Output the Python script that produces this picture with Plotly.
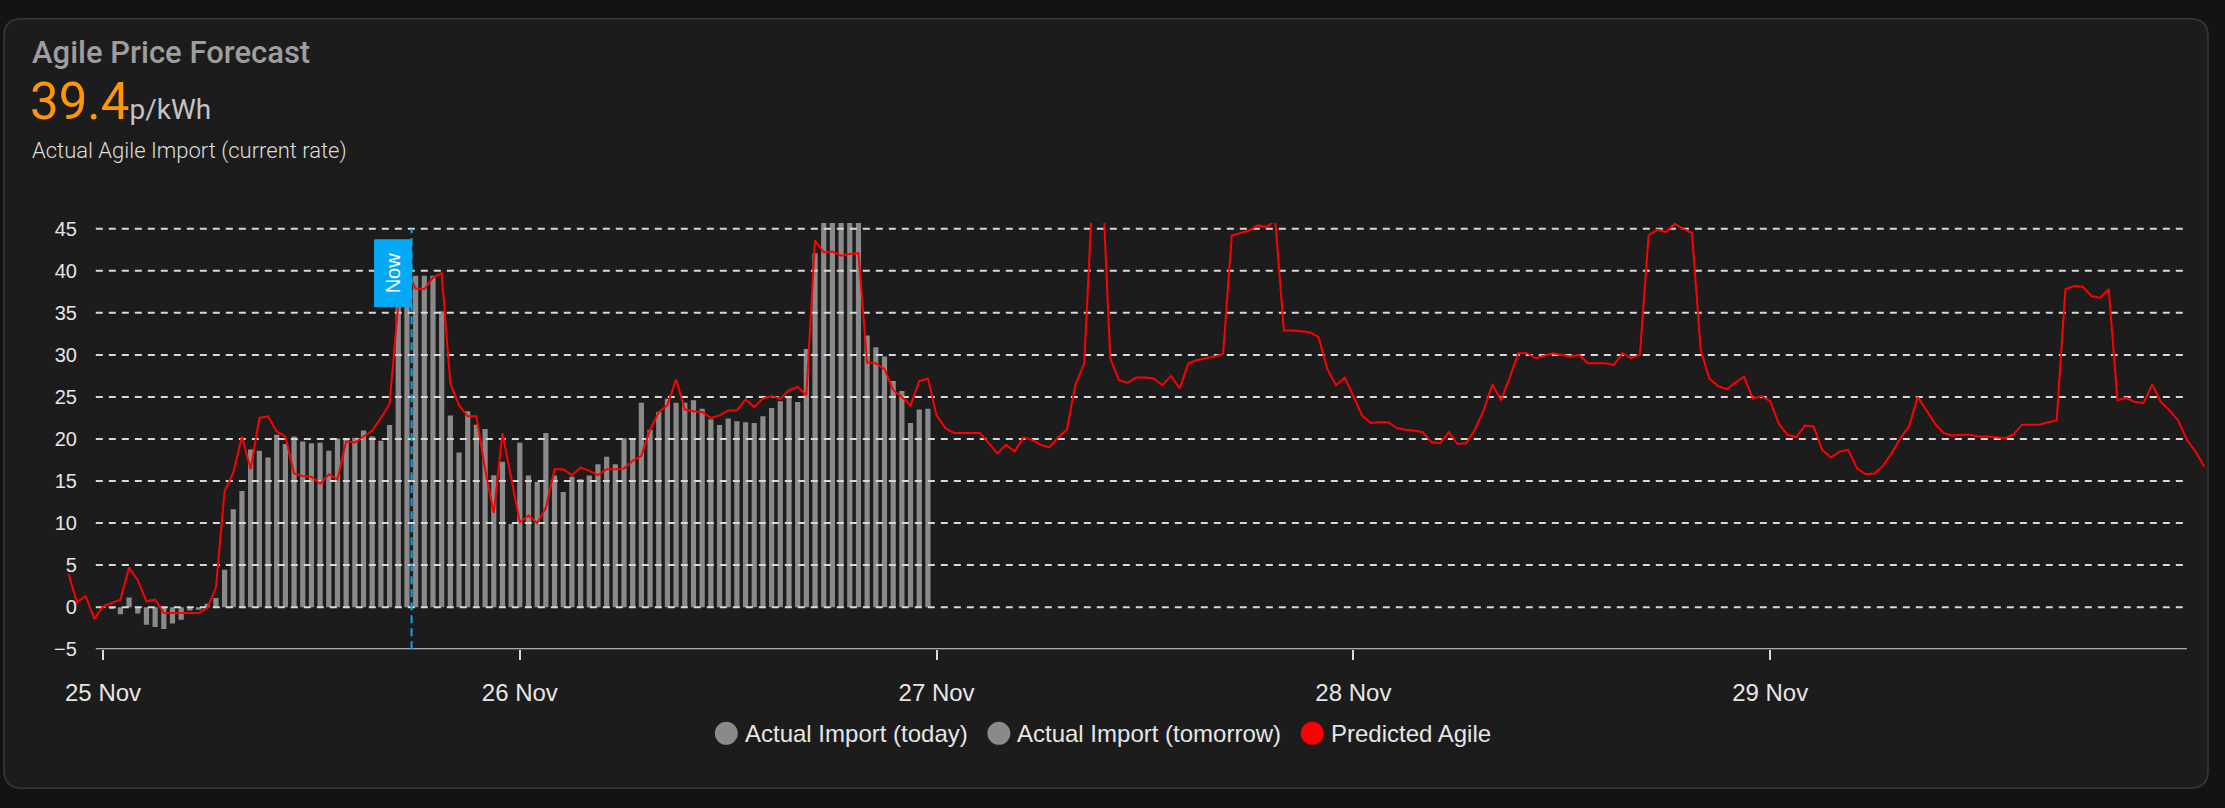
import pandas as pd
import plotly.graph_objects as go

# Actual Agile import price (p/kWh), half-hourly from 25 Nov 00:00
actual_today = [
    0.1, -0.1, -0.85, 1.15, -0.75, -2.1, -2.35, -2.6, -1.95, -1.5, -0.4, -0.3,
    0.4, 1.1, 4.45, 11.65, 13.8, 18.75, 18.6, 17.8, 20.5, 19.4, 20.3, 19.7,
    19.5, 19.55, 18.6, 20.05, 20.0, 20.15, 21.0, 20.3, 19.8, 21.65, 35.8, 39.4,
    39.4, 39.4, 39.4, 35.2, 22.8, 18.4, 23.3, 21.7, 21.2, 15.7, 17.3, 9.9,
]
# half-hourly from 26 Nov 00:00
actual_tomorrow = [
    19.55, 15.65, 14.9, 20.7, 15.65, 13.7, 15.5, 15.2, 15.65, 17.0, 17.9, 17.0,
    20.1, 20.1, 24.3, 21.1, 23.2, 24.8, 24.3, 24.3, 24.6, 23.6, 22.35, 21.65,
    22.45, 22.1, 22.0, 21.9, 22.7, 23.7, 24.5, 25.0, 24.4, 30.7, 42.1, 48.0,
    48.0, 48.0, 48.0, 48.0, 32.3, 30.9, 29.8, 26.9, 25.7, 21.9, 23.5, 23.6,
]
# Predicted Agile price, half-hourly from 24 Nov 22:00
predicted = [
    4.0, 0.6, 1.3, -1.4, 0.1, 0.5, 0.9, 4.7, 3.2, 0.7, 0.9, -0.7,
    -0.7, -0.7, -0.7, -0.7, -0.1, 2.3, 13.8, 16.0, 20.3, 16.4, 22.5, 22.7,
    20.9, 20.3, 15.9, 15.6, 15.5, 14.7, 15.8, 15.2, 19.7, 19.6, 20.3, 21.0,
    22.5, 24.2, 36.0, 40.0, 37.9, 37.8, 39.2, 39.7, 26.6, 24.0, 22.7, 22.7,
    16.4, 11.2, 20.7, 15.3, 10.1, 10.9, 10.0, 11.8, 16.4, 16.4, 15.7, 16.6,
    16.2, 15.7, 16.4, 16.4, 16.5, 17.4, 18.0, 21.1, 23.2, 24.0, 27.1, 23.5,
    23.3, 23.2, 22.5, 22.8, 23.4, 23.4, 24.7, 23.8, 24.8, 25.1, 24.8, 25.8,
    26.2, 25.2, 43.6, 42.2, 42.3, 41.8, 42.0, 42.1, 29.1, 29.0, 28.3, 25.8,
    25.0, 24.0, 26.9, 27.2, 22.8, 21.3, 20.7, 20.7, 20.7, 20.7, 19.5, 18.3,
    19.3, 18.5, 20.2, 19.9, 19.3, 19.0, 20.2, 21.1, 26.5, 29.0, 50.0, 53.0,
    29.6, 27.0, 26.7, 27.3, 27.3, 27.2, 26.4, 27.5, 26.0, 29.0, 29.4, 29.6,
    29.8, 30.1, 44.2, 44.5, 44.8, 45.4, 45.2, 46.0, 32.9, 32.9, 32.8, 32.7,
    32.1, 28.3, 26.4, 27.3, 25.1, 22.8, 21.9, 22.0, 22.0, 21.3, 21.1, 21.0,
    20.8, 19.6, 19.5, 20.8, 19.4, 19.5, 21.1, 23.4, 26.5, 24.6, 27.3, 30.2,
    30.2, 29.6, 29.9, 30.2, 30.0, 29.8, 30.0, 29.0, 29.0, 29.0, 28.8, 30.2,
    29.6, 30.0, 44.2, 44.9, 44.6, 45.6, 45.0, 44.5, 30.6, 27.2, 26.3, 25.9,
    26.7, 27.4, 24.8, 25.1, 24.5, 21.8, 20.5, 20.2, 21.6, 21.5, 18.7, 17.8,
    18.5, 18.7, 16.5, 15.8, 15.9, 16.8, 18.3, 20.1, 21.5, 25.0, 23.4, 21.8,
    20.7, 20.4, 20.5, 20.5, 20.3, 20.3, 20.2, 20.1, 20.5, 21.7, 21.7, 21.7,
    22.0, 22.2, 37.8, 38.2, 38.1, 37.0, 36.8, 37.8, 24.6, 24.9, 24.4, 24.3,
    26.5, 24.4, 23.4, 22.2, 19.9, 18.5, 16.7,
]

y_ticks = [-5, 0, 5, 10, 15, 20, 25, 30, 35, 40, 45]
day_ticks = ["2024-11-25", "2024-11-26", "2024-11-27", "2024-11-28", "2024-11-29"]
series_names = ["Actual Import (today)", "Actual Import (tomorrow)", "Predicted Agile"]
current_rate = 39.4
now_time = pd.Timestamp("2024-11-25 17:46")

t_today = pd.date_range("2024-11-25 00:00", periods=len(actual_today), freq="30min")
t_tomorrow = pd.date_range("2024-11-26 00:00", periods=len(actual_tomorrow), freq="30min")
t_pred = pd.date_range("2024-11-24 22:00", periods=len(predicted), freq="30min")

W, H = 2225, 808
GRAY = "#8a8a8a"
RED = "#ff0000"
BLUE = "#03a9f4"
TXT = "#e6e6e6"
TICKFONT = "Liberation Sans, Arial, sans-serif"


def px(x):
    return x / W


def py(y):
    return 1 - y / H


# the chart's own x extent (grid + axis line); the line runs a bit past it
grid_x0 = pd.Timestamp("2024-11-24 23:35")
grid_x1 = pd.Timestamp("2024-11-30 00:00")

fig = go.Figure()

bar_w = 18 * 60 * 1000
fig.add_trace(go.Bar(x=t_today, y=actual_today, width=bar_w, name=series_names[0],
                     marker=dict(color=GRAY, line_width=0)))
fig.add_trace(go.Bar(x=t_tomorrow, y=actual_tomorrow, width=bar_w, name=series_names[1],
                     marker=dict(color=GRAY, line_width=0)))

# dashed horizontal grid, over the bars but under the line
gx, gy = [], []
for v in y_ticks[1:]:
    gx += [grid_x0, grid_x1, None]
    gy += [v, v, None]
fig.add_trace(go.Scatter(x=gx, y=gy, mode="lines", hoverinfo="skip",
                         line=dict(color="#d8d8d8", width=2, dash="7px,6px")))

fig.add_trace(go.Scatter(x=t_pred, y=predicted, mode="lines", name=series_names[2],
                         line=dict(color=RED, width=2)))

# card background with rounded corners
x0, x1, y0, y1, r = 1, 2208, 14, 799, 18
card = (f"M {px(x0 + r)},{py(y0)} L {px(x1 - r)},{py(y0)} Q {px(x1)},{py(y0)} {px(x1)},{py(y0 + r)} "
        f"L {px(x1)},{py(y1 - r)} Q {px(x1)},{py(y1)} {px(x1 - r)},{py(y1)} "
        f"L {px(x0 + r)},{py(y1)} Q {px(x0)},{py(y1)} {px(x0)},{py(y1 - r)} "
        f"L {px(x0)},{py(y0 + r)} Q {px(x0)},{py(y0)} {px(x0 + r)},{py(y0)} Z")

shapes = [
    dict(type="path", path=card, xref="paper", yref="paper", layer="below",
         fillcolor="#1c1c1c", line=dict(color="#383838", width=1.5)),
    # x axis line
    dict(type="line", xref="x", yref="y", x0=grid_x0, x1=grid_x1, y0=-5, y1=-5,
         line=dict(color="#d9d9d9", width=2)),
    # "Now" marker
    dict(type="rect", xref="x", yref="y", xsizemode="pixel", xanchor=now_time, x0=-37, x1=0,
         ysizemode="pixel", yanchor=45, y0=-78, y1=-11, fillcolor=BLUE, line=dict(color=BLUE, width=1)),
    dict(type="line", xref="x", yref="y", x0=now_time, x1=now_time, y0=-5, y1=45,
         line=dict(color=BLUE, width=2, dash="8px,5px")),
]

annotations = [
    dict(text="Agile Price Forecast", x=px(27), y=py(48.5), xanchor="left", yanchor="middle",
         font=dict(family="Roboto", size=31, color="#9e9e9e", weight=500)),
    dict(text=f"<span style='font-size:51px;color:#ff9800'>{current_rate}</span>"
              f"<span style='font-size:28px;color:#c4c4c4'>p/kWh</span>",
         x=px(25), y=py(98.5), xanchor="left", yanchor="middle",
         font=dict(family="Roboto", size=51, color="#ff9800")),
    dict(text="Actual Agile Import (current rate)", x=px(27), y=py(149), xanchor="left", yanchor="middle",
         font=dict(family="Roboto", size=22, color="#dcdcdc", weight=300)),
    dict(text="Now", x=now_time, y=45, xref="x", yref="y", xshift=-18.5, yshift=-44.5,
         textangle=-90, xanchor="center", yanchor="middle",
         font=dict(family=TICKFONT, size=20, color="#ffffff")),
]

# legend: round markers followed by the series name
legend_x = [724.3, 997.2, 1311.0]
legend_col = [GRAY, GRAY, RED]
for name, cx, col in zip(series_names, legend_x, legend_col):
    shapes.append(dict(type="circle", xref="paper", yref="paper", xsizemode="pixel", ysizemode="pixel",
                       xanchor=px(cx), yanchor=py(743), x0=-11.5, x1=11.5, y0=-11.5, y1=11.5,
                       fillcolor=col, line=dict(width=0)))
    annotations.append(dict(text=name, x=px(cx + 16.5), y=py(743), xanchor="left", yanchor="middle",
                            font=dict(family=TICKFONT, size=24, color=TXT)))

for a in annotations:
    a.setdefault("xref", "paper")
    a.setdefault("yref", "paper")
    a["showarrow"] = False

x_start = pd.Timestamp("2024-11-24 22:00")
x_end = pd.Timestamp("2024-11-30 01:06")

fig.update_layout(
    width=W, height=H,
    margin=dict(l=0, r=0, t=0, b=0),
    paper_bgcolor="#131313",
    plot_bgcolor="rgba(0,0,0,0)",
    barmode="overlay",
    showlegend=False,
    shapes=shapes,
    annotations=annotations,
    xaxis=dict(
        type="date", range=[x_start, x_end], domain=[px(65.4), px(2206)],
        tickvals=day_ticks, tickformat="%d %b", ticks="outside", ticklen=10, tickwidth=1.5,
        tickcolor="#d9d9d9", tickfont=dict(family=TICKFONT, size=24, color=TXT),
        ticklabelstandoff=12, showgrid=False, showline=False, zeroline=False, fixedrange=True,
    ),
    yaxis=dict(
        range=[-5, 45.7], domain=[1 - 657.2 / H, 1 - 222.3 / H], anchor="free", position=px(74),
        tickvals=y_ticks, ticks="", tickfont=dict(family=TICKFONT, size=20, color=TXT),
        showgrid=False, showline=False, zeroline=False, fixedrange=True,
    ),
)

page_css = ("document.documentElement.style.overflow='hidden';"
            "document.body.style.overflow='hidden';"
            "document.body.style.margin='0';"
            "document.body.style.background='#131313';")
fig.write_html("out.html", config={"displayModeBar": False}, post_script=page_css)
